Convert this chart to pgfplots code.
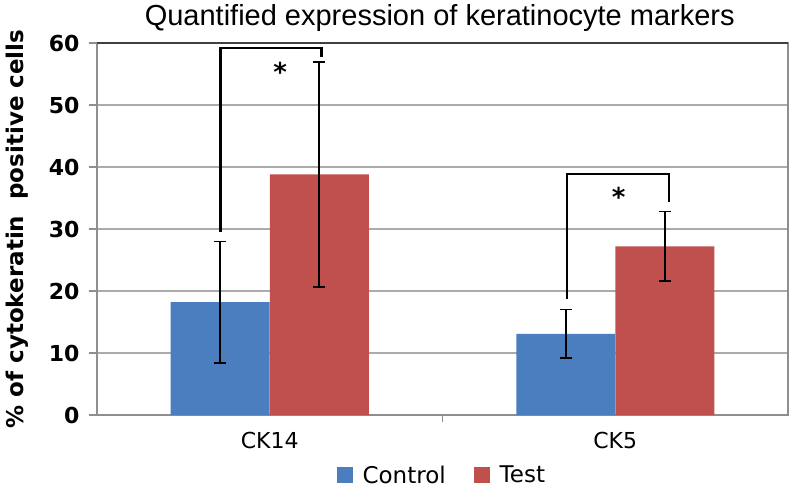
\documentclass[border=0pt]{standalone}
\usepackage{fontspec}
\setmainfont{DejaVu Sans}
\newfontfamily\titlefont{Liberation Sans}
\usepackage{pgfplots}
\pgfplotsset{compat=1.18}
\definecolor{ctrlblue}{HTML}{4A7EBF}
\definecolor{testred}{HTML}{C0504D}
\definecolor{gridgray}{HTML}{ABABAB}
\definecolor{axisgray}{HTML}{8E8E8E}
\begin{document}
\begin{tikzpicture}
\useasboundingbox (-97bp,-76bp) rectangle (695bp,415bp);
\begin{axis}[
  scale only axis,
  width=691bp, height=372bp,
  xmin=0.5, xmax=2.5,
  ymin=0, ymax=60,
  xtick={1,2}, xticklabels={CK14,CK5},
  ytick={0,10,20,30,40,50,60},
  xtick pos=bottom, ytick pos=left,
  tick align=outside,
  major tick length=8bp,
  xtick style={draw=none},
  ytick style={draw=axisgray, line width=1.2bp},
  extra x ticks={1.5}, extra x tick labels={},
  extra x tick style={grid=none, xtick style={draw=axisgray, line width=1.2bp}, major tick length=7bp},
  ymajorgrids,
  grid style={gridgray, line width=1.4bp},
  axis line style={axisgray, line width=1.4bp},
  /pgf/number format/assume math mode=true,
  ticklabel style={font=\fontsize{22bp}{24bp}\selectfont},
  yticklabel style={font=\fontsize{22bp}{24bp}\selectfont\bfseries, xshift=-6bp},
  xticklabel style={yshift=-6bp},
  ylabel={\% of cytokeratin\ \ positive cells},
  ylabel style={at={(axis description cs:-0.115,0.5)}, anchor=center,
    font=\fontsize{23bp}{25bp}\selectfont\bfseries},
  title={\titlefont Quantified expression of keratinocyte markers},
  title style={at={(axis description cs:0.496,1)}, yshift=19bp, anchor=center,
    font=\fontsize{29bp}{31bp}\selectfont},
  legend style={at={(axis description cs:0.499,-0.162)}, anchor=center,
    draw=none, fill=none, legend columns=2,
    font=\fontsize{23bp}{25bp}\selectfont,
    /tikz/every odd column/.append style={column sep=8bp},
    /tikz/every even column/.append style={column sep=26bp}},
  legend image code/.code={\fill[#1] (0bp,-8bp) rectangle (16bp,8bp);},
  clip=false,
]
\addplot[ybar, bar width=0.2865, bar shift=0, fill=ctrlblue, draw=none,
  error bars/.cd, y dir=both, y explicit,
  error bar style={black, line width=1.7bp},
  error mark options={black, line width=1.7bp, mark size=6bp, rotate=90}]
  coordinates {(0.8567,18.2) +- (0,9.8) (1.8567,13.1) +- (0,3.9)};
\addlegendentry{Control}
\addplot[ybar, bar width=0.2865, bar shift=0, fill=testred, draw=none,
  error bars/.cd, y dir=both, y explicit,
  error bar style={black, line width=1.7bp},
  error mark options={black, line width=1.7bp, mark size=6bp, rotate=90}]
  coordinates {(1.1433,38.8) +- (0,18.1) (2.1433,27.2) +- (0,5.6)};
\addlegendentry{Test}
\draw[black!75, line width=1.6bp] (rel axis cs:0,1) -- (rel axis cs:1,1);
\draw[black, line width=2.6bp] (axis cs:0.857,29.5) -- (axis cs:0.857,59.2)
  -- (axis cs:1.150,59.2) -- (axis cs:1.150,57.8);
\draw[black, line width=2.6bp] (axis cs:1.860,18.7) -- (axis cs:1.860,38.9)
  -- (axis cs:2.155,38.9) -- (axis cs:2.155,34.4);
\node[font=\fontsize{26bp}{28bp}\selectfont\bfseries] at (axis cs:1.03,55.4) {*};
\node[font=\fontsize{26bp}{28bp}\selectfont\bfseries] at (axis cs:2.01,35.2) {*};
\end{axis}
\end{tikzpicture}
\end{document}
